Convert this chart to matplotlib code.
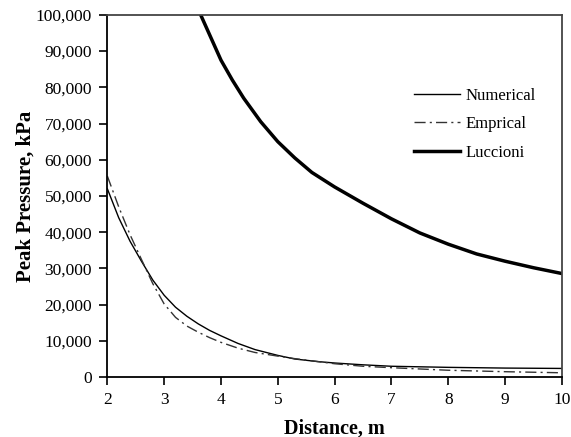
import numpy as np
import matplotlib.pyplot as plt
from matplotlib.ticker import FuncFormatter

plt.rcParams['font.family'] = ['Liberation Serif', 'DejaVu Serif']

# values (distance in m, pressure in kPa)
num_x = [2.0, 2.2, 2.4, 2.6, 2.8, 3.0, 3.2, 3.4, 3.6, 3.8, 4.0, 4.3, 4.6, 5.0, 5.3, 5.7, 6.0, 6.5, 7.0, 8.0, 9.0, 10.0]
num_y = [52000, 44000, 37500, 32000, 26800, 22600, 19300, 16800, 14700, 12900, 11400, 9300, 7600, 6000,
         5000, 4300, 3900, 3400, 3000, 2700, 2500, 2400]

emp_x = [2.0, 2.2, 2.4, 2.6, 2.8, 3.0, 3.2, 3.4, 3.6, 3.8, 4.0, 4.3, 4.6, 5.0, 5.3, 5.7, 6.0, 6.5, 7.0, 8.0, 9.0, 10.0]
emp_y = [55500, 47000, 39300, 32500, 25800, 20200, 16500, 14100, 12400, 10900, 9600, 8000, 6800, 5800,
         5100, 4300, 3700, 3000, 2600, 1900, 1500, 1200]

luc_x = [3.6, 3.8, 4.0, 4.2, 4.4, 4.7, 5.0, 5.3, 5.6, 6.0, 6.5, 7.0, 7.5, 8.0, 8.5, 9.0, 9.5, 10.0]
luc_y = [101500, 94500, 87500, 82000, 77000, 70500, 65000, 60500, 56500, 52500, 48000, 43700, 39800,
         36700, 34000, 32000, 30200, 28600]

fig = plt.figure(figsize=(5.71, 4.37), dpi=100)
ax = fig.add_axes([0.188, 0.137, 0.796, 0.829])

ax.plot(num_x, num_y, color='black', lw=1.0, solid_joinstyle='round', label='Numerical')
ax.plot(emp_x, emp_y, color='#333333', lw=1.0, ls=(0, (8, 3, 1.5, 3)), label='Emprical')
ax.plot(luc_x, luc_y, color='black', lw=2.5, solid_joinstyle='round', label='Luccioni')

ax.set_xlim(2, 10)
ax.set_ylim(0, 100000)
ax.set_xticks(range(2, 11))
ax.set_yticks(range(0, 100001, 10000))
ax.yaxis.set_major_formatter(FuncFormatter(lambda v, p: f'{int(v):,}'))
ax.tick_params(direction='out', length=6, width=1.2, labelsize=12.5, pad=5)

for s in ax.spines.values():
    s.set_linewidth(1.3)
ax.spines['top'].set_color('#444444')
ax.spines['right'].set_color('#444444')

ax.set_xlabel('Distance, m', fontsize=14.5, fontweight='bold', labelpad=7)
ax.set_ylabel('Peak Pressure, kPa', fontsize=15, fontweight='bold')
ax.yaxis.set_label_coords(-0.157, 0.5)

ax.legend(loc='upper right', bbox_to_anchor=(0.975, 0.84), frameon=False,
          fontsize=12, handlelength=2.8, handletextpad=0.3, labelspacing=0.75)

fig.savefig('out.png', dpi=100)
